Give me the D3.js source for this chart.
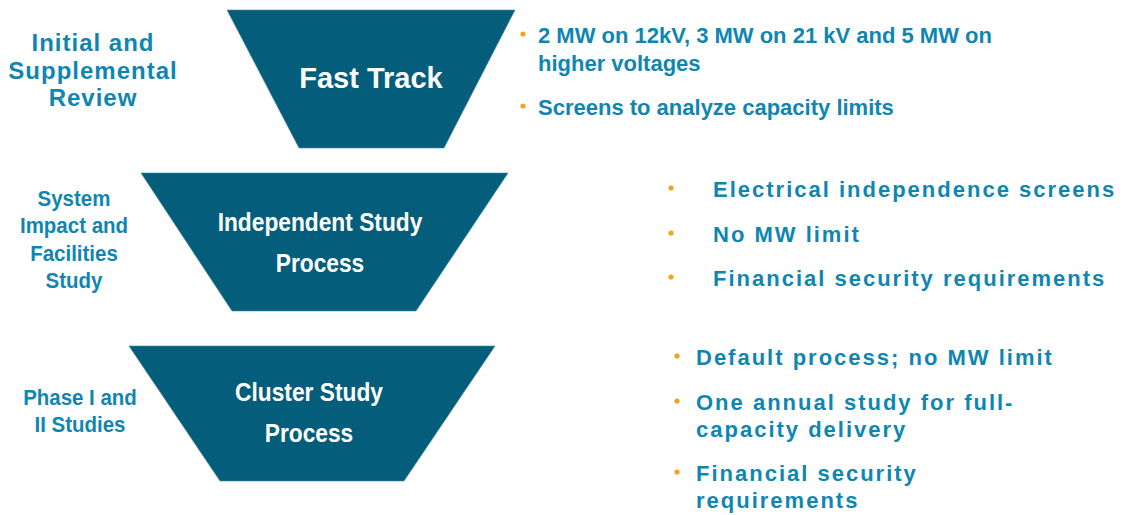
<!DOCTYPE html>
<html>
<head>
<meta charset="utf-8">
<script src="https://cdn.jsdelivr.net/npm/d3@7"></script>
<style>
  body { margin: 0; background: #fff; }
  svg { display: block; font-family: "Liberation Sans", Arial, sans-serif; font-weight: bold; }
</style>
</head>
<body>
<svg id="funnel" width="1125" height="515"></svg>
<script>
// the three study tracks, top to bottom
var stageNames = [
  ["Fast Track"],
  ["Independent Study", "Process"],
  ["Cluster Study", "Process"]
];
var reviewLabels = [
  ["Initial and", "Supplemental", "Review"],
  ["System", "Impact and", "Facilities", "Study"],
  ["Phase I and", "II Studies"]
];
// each bullet is a list of wrapped lines
var stageBullets = [
  [["2 MW on 12kV, 3 MW on 21 kV and 5 MW on", "higher voltages"], ["Screens to analyze capacity limits"]],
  [["Electrical independence screens"], ["No MW limit"], ["Financial security requirements"]],
  [["Default process; no MW limit"], ["One annual study for full-", "capacity delivery"], ["Financial security", "requirements"]]
];

// layout of each row (pixels)
var layout = [
  {top: 10, bottom: 148, topX: [227, 515], botX: [299, 444],
   nameX: 371, nameY: [88], nameSize: 29, nameSquash: 1,
   labelX: 93, labelY: [51, 79, 106], labelSize: 24, labelSquash: 1, labelSpacing: 1,
   dotX: 523, textX: 538, bulletY: [[43, 71], [115]], spacing: 0},
  {top: 173, bottom: 311, topX: [141, 508], botX: [232, 416],
   nameX: 320, nameY: [231, 272], nameSize: 25, nameSquash: 0.91,
   labelX: 74, labelY: [206, 233, 261, 288], labelSize: 22.5, labelSquash: 0.91, labelSpacing: 0,
   dotX: 671, textX: 713, bulletY: [[197], [242], [286]], spacing: 2},
  {top: 346, bottom: 481, topX: [129, 495], botX: [220, 404],
   nameX: 309, nameY: [401, 442], nameSize: 25, nameSquash: 0.91,
   labelX: 80, labelY: [405, 432], labelSize: 22.5, labelSquash: 0.91, labelSpacing: 0,
   dotX: 677, textX: 696, bulletY: [[365], [410, 437], [481, 508]], spacing: 2}
];

var svg = d3.select("#funnel");
var darkTeal = "#045d7b", blue = "#0f86b2", orange = "#f6a11d";

var rows = svg.selectAll("g.row").data(layout).enter()
  .append("g").attr("class", "row");

rows.append("path")
  .attr("d", function(d) {
    return d3.line()([[d.topX[0], d.top], [d.topX[1], d.top], [d.botX[1], d.bottom], [d.botX[0], d.bottom]]) + "Z";
  })
  .attr("fill", darkTeal)
  .attr("stroke", "#3f8aa3")
  .attr("stroke-width", 0.6);

// stage names inside the funnel pieces
rows.each(function(d, i) {
  var g = d3.select(this);
  g.selectAll("text.name").data(stageNames[i]).enter()
    .append("text").attr("class", "name")
    .attr("transform", function(t, j) { return "translate(" + d.nameX + "," + d.nameY[j] + ") scale(" + d.nameSquash + ",1)"; })
    .attr("text-anchor", "middle")
    .attr("font-size", d.nameSize)
    .attr("fill", "#fff")
    .text(function(t) { return t; });

  g.selectAll("text.label").data(reviewLabels[i]).enter()
    .append("text").attr("class", "label")
    .attr("transform", function(t, j) { return "translate(" + d.labelX + "," + d.labelY[j] + ") scale(" + d.labelSquash + ",1)"; })
    .attr("text-anchor", "middle")
    .attr("font-size", d.labelSize)
    .attr("letter-spacing", d.labelSpacing)
    .attr("fill", blue)
    .text(function(t) { return t; });

  var bullets = g.selectAll("g.bullet").data(stageBullets[i]).enter()
    .append("g").attr("class", "bullet");

  bullets.append("circle")
    .attr("cx", d.dotX)
    .attr("cy", function(b, k) { return d.bulletY[k][0] - 9; })
    .attr("r", 2.6)
    .attr("fill", orange);

  bullets.each(function(b, k) {
    d3.select(this).selectAll("text").data(b).enter()
      .append("text")
      .attr("x", d.textX)
      .attr("y", function(t, j) { return d.bulletY[k][j]; })
      .attr("font-size", 22)
      .attr("letter-spacing", d.spacing)
      .attr("fill", blue)
      .text(function(t) { return t; });
  });
});
</script>
</body>
</html>
